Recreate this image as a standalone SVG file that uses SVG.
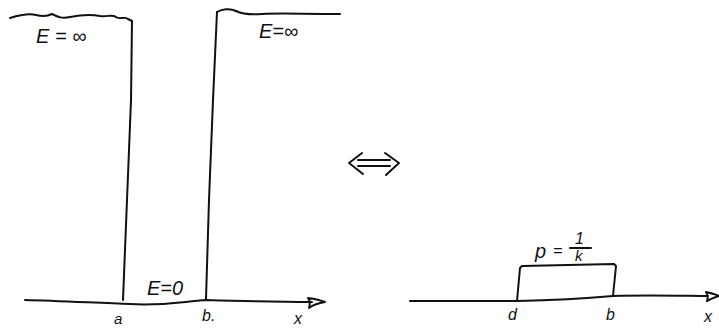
<svg xmlns="http://www.w3.org/2000/svg" width="719" height="328" viewBox="0 0 719 328">
<style>
.ln{fill:none;stroke:#111;stroke-width:2;stroke-linecap:round;stroke-linejoin:round}
.t{font-family:"Liberation Sans",Arial,sans-serif;fill:#111;font-style:italic}
</style>
<rect width="719" height="328" fill="#fff"/>
<g id="left-panel">
<path class="ln" d="M10,18 C20,15 28,13 36,15 C44,17 48,16 52,14 C58,17 62,19 70,17 C80,15 90,14 100,16 C108,17 112,14 116,17 C120,20 124,16 128,19 L132,21"/>
<path class="ln" d="M132,21 L131,100 L127,200 L123,300"/>
<path class="ln" d="M217,12 L213,100 L209,200 L206,299"/>
<path class="ln" d="M217,12 C222,9 230,8 236,11 C242,14 250,15 262,14 C280,13 300,14 340,14"/>
<path class="ln" d="M25,300 C60,301 100,303 130,304 C160,306 180,302 206,300 C240,301 280,302 312,302"/>
<path class="ln" d="M308,298 C315,299 320,300 325,302 C318,303 313,305 309,308 C310,305 310,301 308,298"/>
<text class="t" x="36" y="43" font-size="20">E = ∞</text>
<text class="t" x="259" y="38" font-size="20">E=∞</text>
<text class="t" x="147" y="295" font-size="20">E=0</text>
<text class="t" x="114" y="324" font-size="15">a</text>
<text class="t" x="202" y="321" font-size="16">b.</text>
<text class="t" x="294" y="324" font-size="16">x</text>
</g>
<g id="equiv-arrow">
<path class="ln" d="M362,153 L349,163 L363,174"/>
<path class="ln" d="M385,153 L399,163 L386,175"/>
<path class="ln" d="M358,160 L390,160"/>
<path class="ln" d="M358,166 L390,166"/>
</g>
<g id="right-panel">
<path class="ln" d="M410,301 C450,301 490,301 517,301 C560,300 590,298 613,296 C650,295 690,296 708,296"/>
<path class="ln" d="M706,292 C710,293 715,294 719,296 C715,297 711,299 707,301 C708,298 708,295 706,292"/>
<path class="ln" d="M517,301 L520,268 L522,266 L614,264 L616,266 L613,296"/>
<text class="t" x="535" y="258" font-size="20">p</text>
<text class="t" x="553" y="256" font-size="16">=</text>
<text class="t" x="575" y="244" font-size="16">1</text>
<path class="ln" d="M570,248 L591,248" stroke-width="1.6"/>
<text class="t" x="575" y="261" font-size="15">k</text>
<text class="t" x="508" y="320" font-size="16">d</text>
<text class="t" x="606" y="320" font-size="16">b</text>
<text class="t" x="704" y="322" font-size="16">x</text>
</g>
</svg>
